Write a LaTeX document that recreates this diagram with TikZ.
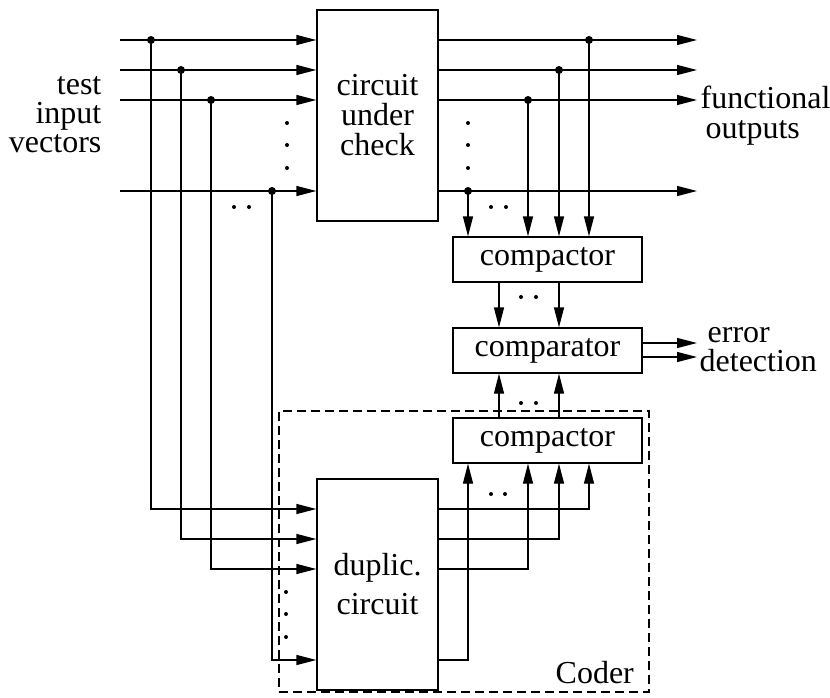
\documentclass[tikz,border=0pt]{standalone}
\usepackage{fontspec}
\setmainfont{Liberation Serif}
\usetikzlibrary{arrows.meta}
\begin{document}
\begin{tikzpicture}[x=1pt,y=-1pt,
  line width=1.3pt,
  arr/.style={-{Triangle[length=20pt,width=10pt]}},
  box/.style={draw, line width=1.3pt, inner sep=0pt, font=\fontsize{32}{30}\selectfont},
  lbl/.style={inner sep=0pt, font=\fontsize{32}{30}\selectfont},
  coderframe/.style={draw, line width=1.2pt, dash pattern=on 9pt off 5pt, inner sep=0pt}]
\useasboundingbox (0,0) rectangle (830,698);

% blocks
\node[box, minimum width=121pt, minimum height=211pt, align=center] (cuc) at (377.5,115.5) {circuit\\under\\check};
\node[box, minimum width=121pt, minimum height=211pt, align=center, font=\fontsize{32}{39}\selectfont] (dup) at (377.5,584.5) {duplic.\\circuit};
\node[box, minimum width=189pt, minimum height=45pt] (cmpa) at (547.5,259.5) {compactor};
\node[box, minimum width=189pt, minimum height=45pt] (cmpr) at (547.5,350.5) {comparator};
\node[box, minimum width=189pt, minimum height=45pt] (cmpb) at (547.5,440.5) {compactor};
\node[coderframe, minimum width=370pt, minimum height=281pt] (coderbox) at (464,551.5) {};
\node[lbl, anchor=base west] (coder) at (555,683) {Coder};

% labels
\node[lbl, anchor=base east] (tst) at (102,95) {test};
\node[lbl, anchor=base east] (inp) at (102,124) {input};
\node[lbl, anchor=base east] (vec) at (102,153) {vectors};
\node[lbl, anchor=base west] (fun) at (700,109) {functional};
\node[lbl, anchor=base west] (out) at (705,139) {outputs};
\node[lbl, anchor=south west, align=left, font=\fontsize{32}{29}\selectfont] (errdet) at (699,372) {\hspace*{8pt}error\\detection};

% coordinates
\coordinate (in1) at (120,40);
\coordinate (in2) at (120,70);
\coordinate (in3) at (120,100);
\coordinate (in4) at (120,191);
\coordinate (o1) at (697,40);
\coordinate (o2) at (697,70);
\coordinate (o3) at (697,100);
\coordinate (o4) at (697,191);
\coordinate (j1) at (151,40);
\coordinate (j2) at (181,70);
\coordinate (j3) at (211,100);
\coordinate (j4) at (272,191);
\coordinate (k1) at (589,40);
\coordinate (k2) at (559,70);
\coordinate (k3) at (528,100);
\coordinate (k4) at (468,191);
\coordinate (d1) at (0,509);
\coordinate (d2) at (0,539);
\coordinate (d3) at (0,569);
\coordinate (d4) at (0,660);
\coordinate (xa) at (499,0);
\coordinate (xb) at (559,0);
\coordinate (e1) at (697,343);
\coordinate (e2) at (697,357);

% inputs
\foreach \i in {1,2,3,4} {
  \draw[arr] (in\i) -- (in\i -| cuc.west);
  \draw[arr] (in\i -| cuc.east) -- (o\i);
  \draw[arr] (j\i) |- (dup.west |- d\i);
  \draw[arr] (k\i) -- (k\i |- cmpa.north);
  \draw[arr] (dup.east |- d\i) -| (cmpb.south -| k\i);
  \fill (j\i) circle (4pt);
  \fill (k\i) circle (4pt);
}

% between compactors and comparator
\draw[arr] (cmpa.south -| xa) -- (cmpr.north -| xa);
\draw[arr] (cmpa.south -| xb) -- (cmpr.north -| xb);
\draw[arr] (cmpb.north -| xa) -- (cmpr.south -| xa);
\draw[arr] (cmpb.north -| xb) -- (cmpr.south -| xb);

% error detection
\draw[arr] (cmpr.east |- e1) -- (e1);
\draw[arr] (cmpr.east |- e2) -- (e2);

% ellipsis dots
\foreach \p in {(287,123),(287,145),(287,168),(234,207),(249,207),
                (468,123),(468,145),(468,168),(491,207),(506,207),
                (521,297),(536,297),(521,403),(536,403),
                (491,494),(505,494),
                (286,592),(286,614),(286,637)}
  \fill \p circle (2pt);
\end{tikzpicture}
\end{document}
